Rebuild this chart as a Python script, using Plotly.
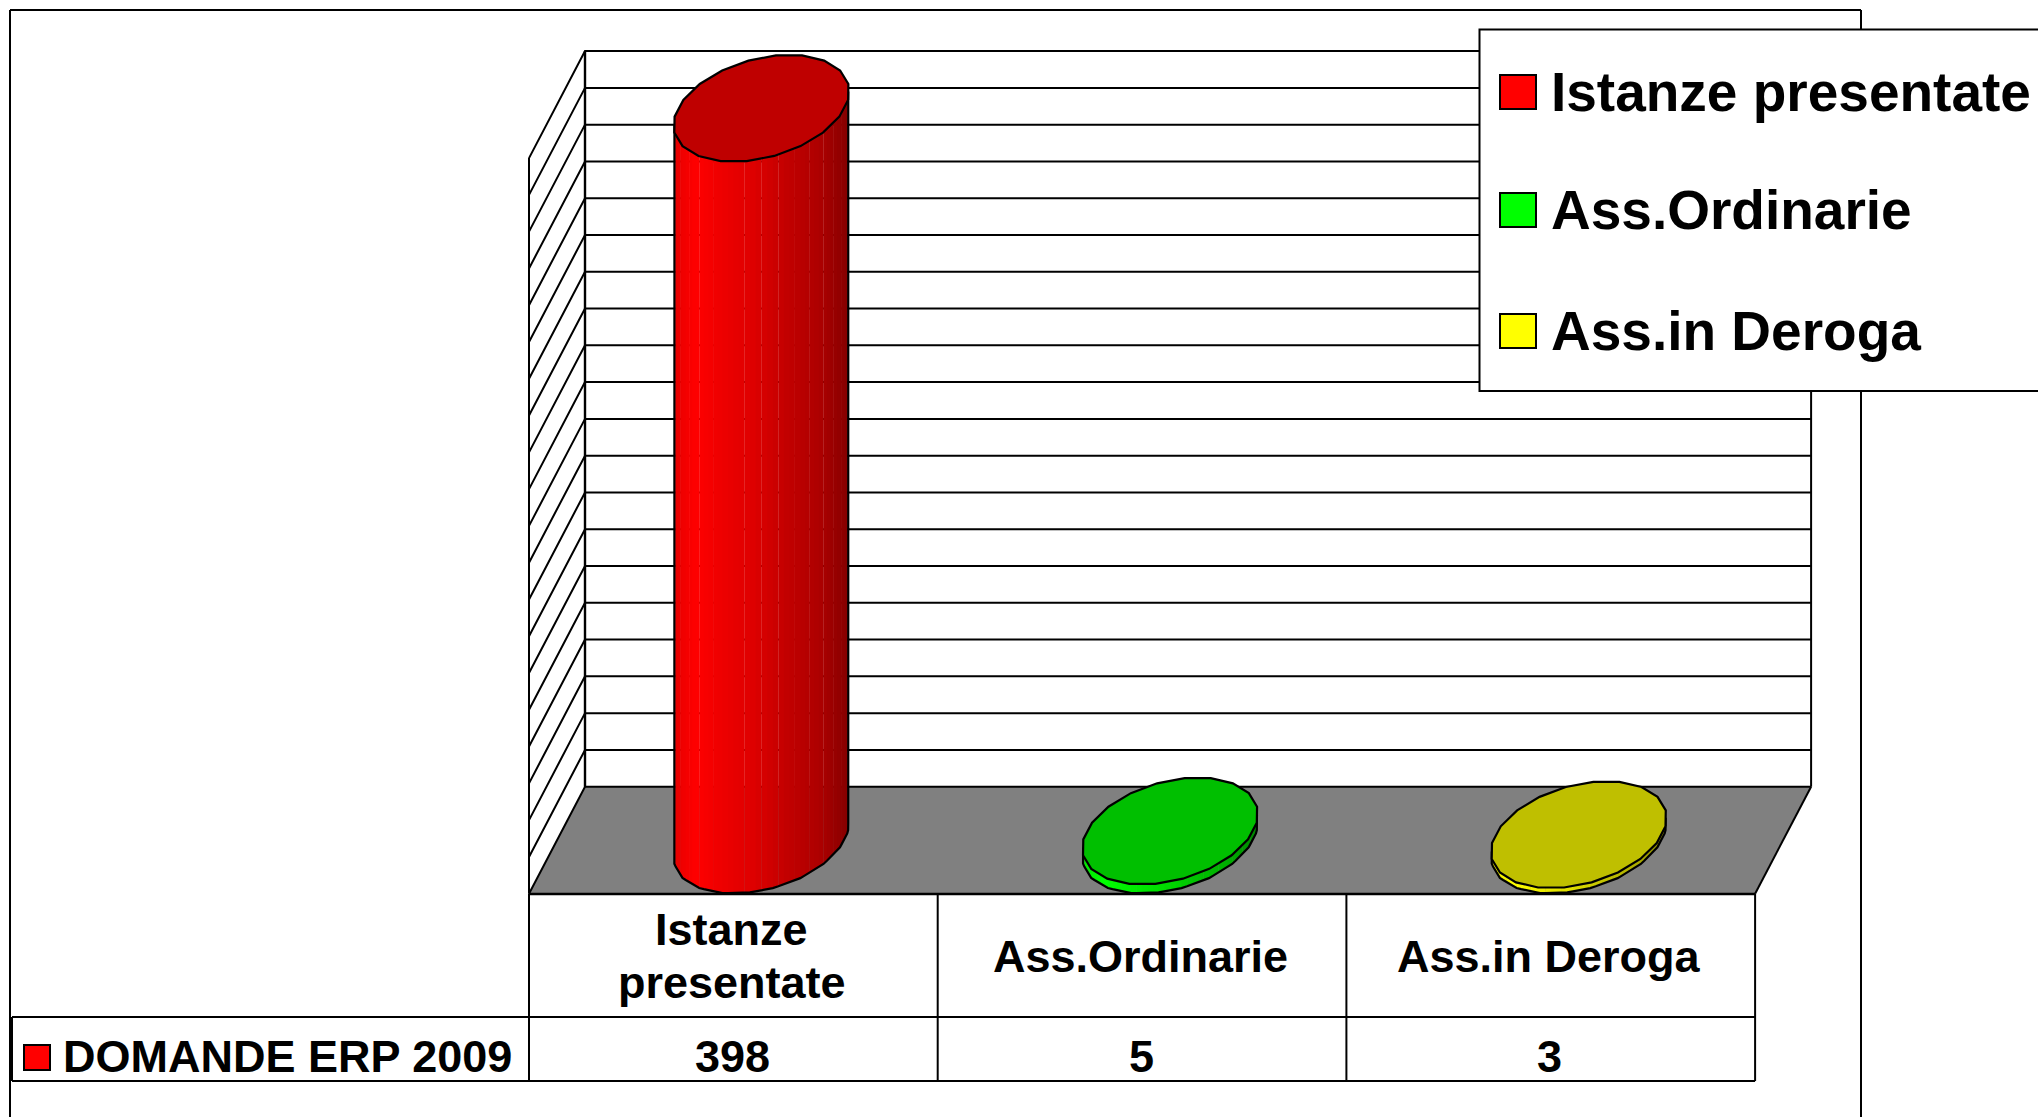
import math
import plotly.graph_objects as go

# ---- data ----
categories = ["Istanze presentate", "Ass.Ordinarie", "Ass.in Deroga"]
category_lines = [["Istanze", "presentate"], ["Ass.Ordinarie"], ["Ass.in Deroga"]]
values = [398, 5, 3]
series_name = "DOMANDE ERP 2009"
axis_ticks = [0, 20, 40, 60, 80, 100, 120, 140, 160, 180, 200, 220, 240, 260, 280,
              300, 320, 340, 360, 380, 400]
side_colors = [(255, 0, 0), (0, 255, 0), (255, 255, 0)]
top_colors = ["#BF0000", "#00BF00", "#BFBF00"]

# ---- page geometry (pixels) ----
W, H = 2038, 1117
FRONT_L, CAT_W = 529.0, 408.7
BACK_Y0, PX_PER_UNIT = 786.7, 1.839
DEPTH_PX_X, DEPTH_PX_Y = 56.0, 107.0
DEPTH_X = DEPTH_PX_X / CAT_W
DEPTH_Y = DEPTH_PX_Y / PX_PER_UNIT
VMAX = axis_ticks[-1]
NCAT = len(categories)
FONT = "Liberation Sans"


def proj(c, d, v):
    """category position, depth (0 front, 1 back), value -> axis coordinates"""
    return c + d * DEPTH_X, v - (1 - d) * DEPTH_Y


def px(x):
    return x / W


def py(y):
    return 1 - y / H


def poly(points):
    return [p[0] for p in points], [p[1] for p in points]


fig = go.Figure()


def add_fill(points, color):
    xs, ys = poly(points + points[:1])
    fig.add_trace(go.Scatter(x=xs, y=ys, mode="lines", fill="toself", fillcolor=color,
                             line=dict(width=0), hoverinfo="skip", showlegend=False))


def add_line(points, width=2.0, color="#000000", close=False):
    pts = points + points[:1] if close else points
    xs, ys = poly(pts)
    fig.add_trace(go.Scatter(x=xs, y=ys, mode="lines", line=dict(color=color, width=width),
                             hoverinfo="skip", showlegend=False))


# walls and floor
add_fill([proj(0, 1, 0), proj(NCAT, 1, 0), proj(NCAT, 1, VMAX), proj(0, 1, VMAX)], "#FFFFFF")
add_fill([proj(0, 0, 0), proj(NCAT, 0, 0), proj(NCAT, 1, 0), proj(0, 1, 0)], "#808080")
for t in axis_ticks:
    add_line([proj(0, 0, t), proj(0, 1, t), proj(NCAT, 1, t)], width=2.0)
add_line([proj(0, 0, 0), proj(0, 0, VMAX)])
add_line([proj(0, 1, 0), proj(0, 1, VMAX)], width=2.4)
add_line([proj(NCAT, 1, 0), proj(NCAT, 1, VMAX)])
add_line([proj(NCAT, 1, 0), proj(NCAT, 0, 0)])

# cylinders
GAP_RATIO = 2.45
RAD = 1 / (2 * GAP_RATIO)
SHADE = [(0.0, 0.90), (0.12, 1.0), (0.25, 0.94), (0.45, 0.87), (0.65, 0.76), (0.85, 0.67), (1.0, 0.52)]
N_SIDE = 48
N_RIM = 20
SEAM_EVERY = 3


def shade(f):
    for (a, sa), (b, sb) in zip(SHADE, SHADE[1:]):
        if f <= b:
            return sa + (sb - sa) * (f - a) / (b - a)
    return SHADE[-1][1]


def vertex(c, v, k):
    t = 2 * math.pi * (k + 0.5) / N_RIM
    return proj(c + RAD * math.cos(t), 0.5 + 0.5 * math.sin(t), v)


def rim(c, v, t):
    """point on the faceted (polygonal) rim at angle t"""
    u = t / (2 * math.pi) * N_RIM - 0.5
    k = math.floor(u)
    f = u - k
    p, q = vertex(c, v, k), vertex(c, v, k + 1)
    return p[0] + (q[0] - p[0]) * f, p[1] + (q[1] - p[1]) * f


for i, v in enumerate(values):
    c = i + 0.5
    t0 = math.atan2(DEPTH_PX_X / 2, RAD * CAT_W) + math.pi
    angles = [t0 + math.pi * k / N_SIDE for k in range(N_SIDE + 1)]
    xl = rim(c, 0, angles[0])[0]
    xr = rim(c, 0, angles[-1])[0]
    for k in range(N_SIDE):
        a, b = angles[k], angles[k + 1]
        xm = (rim(c, 0, a)[0] + rim(c, 0, b)[0]) / 2
        s = shade((xm - xl) / (xr - xl))
        col = "rgb(%d,%d,%d)" % tuple(round(q * s) for q in side_colors[i])
        end = b if (k + 1) % SEAM_EVERY == 0 else angles[min(k + 2, N_SIDE)]
        pts = [a, b, end] if end != b else [a, b]
        add_fill([rim(c, 0, q) for q in pts] + [rim(c, v, q) for q in reversed(pts)], col)
    outline = [rim(c, v, angles[0])] + [rim(c, 0, a) for a in angles] + [rim(c, v, angles[-1])]
    add_line(outline, width=2.2)
    top = [vertex(c, v, k) for k in range(N_RIM)]
    add_fill(top, top_colors[i])
    add_line(top, width=2.2, close=True)

shapes = []


def seg(x0, y0, x1, y1, w=2.0):
    shapes.append(dict(type="line", xref="paper", yref="paper", x0=px(x0), y0=py(y0), x1=px(x1),
                       y1=py(y1), line=dict(color="#000000", width=w), layer="above"))


def box(x0, y0, x1, y1, fill, w=2.0):
    shapes.append(dict(type="rect", xref="paper", yref="paper", x0=px(x0), y0=py(y0), x1=px(x1),
                       y1=py(y1), fillcolor=fill, line=dict(color="#000000", width=w), layer="above"))


# outer frame
OUT_L, OUT_T, OUT_R = 10, 10, 1861
seg(OUT_L, OUT_T, OUT_R, OUT_T)
seg(OUT_L, OUT_T, OUT_L, H)
seg(OUT_R, OUT_T, OUT_R, H)

# data table
T_TOP, T_ROW, T_BOT, T_LEFT = 894, 1017, 1081, 12
seg(FRONT_L, T_TOP, FRONT_L + CAT_W * NCAT, T_TOP, 2.4)
seg(T_LEFT, T_ROW, FRONT_L + CAT_W * NCAT, T_ROW)
seg(T_LEFT, T_BOT, FRONT_L + CAT_W * NCAT, T_BOT)
seg(T_LEFT, T_ROW, T_LEFT, T_BOT)
for k in range(NCAT + 1):
    seg(FRONT_L + CAT_W * k, T_TOP, FRONT_L + CAT_W * k, T_BOT)
box(24, 1045, 50, 1070, "rgb(%d,%d,%d)" % side_colors[0])

annotations = []


def label(x, y, text, size, anchor="center", xref="paper"):
    annotations.append(dict(x=x, y=py(y), xref=xref, yref="paper", text=text, showarrow=False,
                            xanchor=anchor, yanchor="middle", align=anchor,
                            font=dict(family=FONT, size=size, color="#000000", weight=700)))


TXT = 45
label(px(287), 1056, series_name, TXT)
for k, lines in enumerate(category_lines):
    xc = k + 0.5
    if len(lines) == 2:
        label(xc - 0.004, 929, lines[0], TXT, xref="x")
        label(xc - 0.004, 982, lines[1], TXT, xref="x")
    else:
        label(xc - 0.004, 956, lines[0], TXT, xref="x")
    label(xc - 0.002, 1056, str(values[k]), TXT, xref="x")

# legend
box(1479.5, 29.5, W + 5, 391, "#FFFFFF")
leg_y = [92, 210, 331]
for k, name in enumerate(categories):
    box(1500, leg_y[k] - 17, 1536, leg_y[k] + 17, "rgb(%d,%d,%d)" % side_colors[k])
    label(px(1549), leg_y[k], name, 55, anchor="left")

fig.update_layout(
    width=W, height=H, margin=dict(l=0, r=0, t=0, b=0, pad=0), autosize=False,
    paper_bgcolor="#FFFFFF", plot_bgcolor="#FFFFFF", showlegend=False,
    xaxis=dict(range=[-FRONT_L / CAT_W, (W - FRONT_L) / CAT_W], visible=False, fixedrange=True),
    yaxis=dict(range=[(BACK_Y0 - H) / PX_PER_UNIT, BACK_Y0 / PX_PER_UNIT], visible=False, fixedrange=True),
    shapes=shapes, annotations=annotations,
)

fig.write_html("out.html", config=dict(displayModeBar=False),
               post_script="document.body.style.margin='0';document.documentElement.style.overflow='hidden';")
